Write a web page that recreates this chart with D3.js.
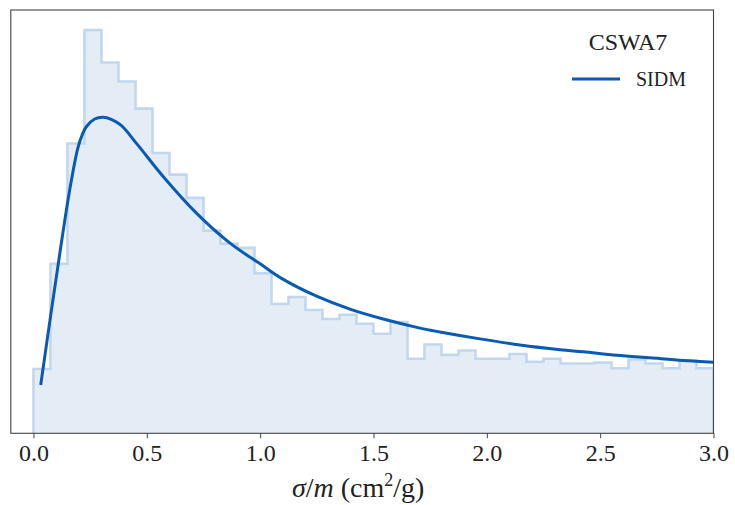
<!DOCTYPE html>
<html>
<head>
<meta charset="utf-8">
<script src="https://cdn.jsdelivr.net/npm/d3@7"></script>
<style>
  html, body { margin: 0; padding: 0; background: #ffffff; }
  svg { display: block; }
  text { font-family: "Liberation Serif", "DejaVu Serif", serif; fill: #222; }
</style>
</head>
<body>
<svg id="chart" width="735" height="505"></svg>
<script>
// Posterior histogram of sigma/m (density per bin of width 0.075, from 0 to 3)
const binStart = 0;
const binWidth = 0.075;
const histDensity = [
  0.149, 0.393, 0.672, 0.935, 0.860, 0.816, 0.753, 0.650, 0.600, 0.546,
  0.470, 0.440, 0.430, 0.371, 0.300, 0.316, 0.286, 0.265, 0.275, 0.254,
  0.231, 0.258, 0.173, 0.206, 0.182, 0.192, 0.173, 0.173, 0.184, 0.166,
  0.173, 0.162, 0.162, 0.164, 0.151, 0.171, 0.162, 0.151, 0.169, 0.151
];

// SIDM model curve
const sidmX = [0.032, 0.075, 0.117, 0.160, 0.196, 0.215, 0.233, 0.270, 0.307, 0.343,
               0.387, 0.458, 0.573, 0.720, 0.867, 1.000, 1.102, 1.249, 1.396, 1.543,
               1.705, 1.793, 1.970, 2.146, 2.323, 2.426, 2.573, 2.720, 2.867, 3.000];
const sidmY = [0.112, 0.270, 0.420, 0.565, 0.662, 0.692, 0.711, 0.729, 0.733, 0.728,
               0.714, 0.670, 0.595, 0.510, 0.441, 0.393, 0.357, 0.318, 0.288, 0.265,
               0.244, 0.235, 0.219, 0.205, 0.194, 0.189, 0.181, 0.175, 0.169, 0.165];

const xTicks = [0.0, 0.5, 1.0, 1.5, 2.0, 2.5, 3.0];
const xTickLabels = ["0.0", "0.5", "1.0", "1.5", "2.0", "2.5", "3.0"];
const legendTitle = "CSWA7";
const seriesName = "SIDM";

const svg = d3.select("#chart");
const plot = { left: 10.8, right: 713.5, top: 10, bottom: 433.3 };

const x = d3.scaleLinear().domain([-0.1, 3.0]).range([plot.left, plot.right]);
const yMax = d3.max(histDensity) * 1.05;
const y = d3.scaleLinear().domain([0, yMax]).range([plot.bottom, plot.top]);

// clip for plotting area
svg.append("defs").append("clipPath").attr("id", "plotClip")
  .append("rect")
  .attr("x", plot.left).attr("y", plot.top)
  .attr("width", plot.right - plot.left).attr("height", plot.bottom - plot.top);

const g = svg.append("g").attr("clip-path", "url(#plotClip)");

// step outline of the histogram
const stepPts = [[binStart, 0]];
histDensity.forEach((d, i) => {
  const x0 = binStart + i * binWidth, x1 = x0 + binWidth;
  stepPts.push([x0, d], [x1, d]);
});
stepPts.push([binStart + histDensity.length * binWidth, 0]);

const stepLine = d3.line().x(d => x(d[0])).y(d => y(d[1]));

g.append("path")
  .attr("d", stepLine(stepPts) + "Z")
  .attr("fill", "#e4ecf6")
  .attr("stroke", "none");

g.append("path")
  .attr("d", stepLine(stepPts))
  .attr("fill", "none")
  .attr("stroke", "#c2d7ee")
  .attr("stroke-width", 2.6)
  .attr("stroke-linejoin", "miter");

// SIDM curve
const curvePts = sidmX.map((v, i) => [v, sidmY[i]]);
g.append("path")
  .attr("d", d3.line().x(d => x(d[0])).y(d => y(d[1])).curve(d3.curveCatmullRom.alpha(0.5))(curvePts))
  .attr("fill", "none")
  .attr("stroke", "#0a5ab4")
  .attr("stroke-width", 3)
  .attr("stroke-linecap", "butt");

// x axis
const xAxis = d3.axisBottom(x)
  .tickValues(xTicks)
  .tickFormat((d, i) => xTickLabels[i])
  .tickSize(5)
  .tickPadding(6);

const ax = svg.append("g")
  .attr("transform", `translate(0,${plot.bottom})`)
  .call(xAxis);
ax.select(".domain").remove();
ax.selectAll(".tick line").attr("stroke", "#444").attr("stroke-width", 1);
ax.selectAll(".tick text")
  .attr("fill", "#222")
  .style("font-family", "'Liberation Serif', serif")
  .style("font-size", "24px");

// frame
svg.append("rect")
  .attr("x", plot.left).attr("y", plot.top)
  .attr("width", plot.right - plot.left).attr("height", plot.bottom - plot.top)
  .attr("fill", "none")
  .attr("stroke", "#444")
  .attr("stroke-width", 1.1);

// x label
const xl = svg.append("text")
  .attr("x", (plot.left + plot.right) / 2 - 4)
  .attr("y", 497)
  .attr("text-anchor", "middle")
  .style("font-size", "28px");
xl.append("tspan").attr("font-style", "italic").text("σ");
xl.append("tspan").text("/");
xl.append("tspan").attr("font-style", "italic").text("m");
xl.append("tspan").text(" (cm");
xl.append("tspan").attr("dy", -11).style("font-size", "18px").text("2");
xl.append("tspan").attr("dy", 11).text("/g)");

// legend
const lg = svg.append("g");
lg.append("text")
  .attr("x", 628).attr("y", 50)
  .attr("text-anchor", "middle")
  .style("font-size", "24px")
  .text(legendTitle);
lg.append("line")
  .attr("x1", 572).attr("x2", 620)
  .attr("y1", 79).attr("y2", 79)
  .attr("stroke", "#0a5ab4").attr("stroke-width", 3);
lg.append("text")
  .attr("x", 636).attr("y", 86)
  .style("font-size", "20px")
  .text(seriesName);
</script>
</body>
</html>
